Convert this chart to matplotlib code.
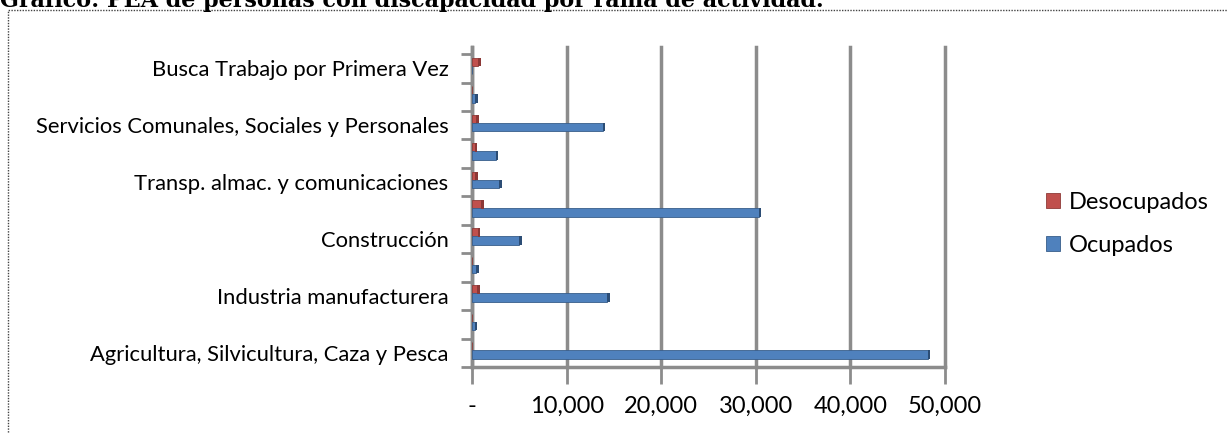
import matplotlib
matplotlib.use('Agg')
import matplotlib.pyplot as plt
from matplotlib.patches import Rectangle
import numpy as np

# data (bottom to top)
categorias = ['Agricultura, Silvicultura, Caza y Pesca',
              'Explotación de Minas y Canteras',
              'Industria manufacturera',
              'Electricidad, Gas y Agua',
              'Construcción',
              'Comercio, Restaurantes y Hoteles',
              'Transp. almac. y comunicaciones',
              'Establecimientos Financieros',
              'Servicios Comunales, Sociales y Personales',
              'Actividades no bien especificadas',
              'Busca Trabajo por Primera Vez']
ocupados = [48200, 300, 14300, 450, 5000, 30300, 2900, 2500, 13800, 350, 0]
desocupados = [0, 0, 550, 0, 600, 1000, 350, 300, 450, 0, 650]
xticks = [0, 10000, 20000, 30000, 40000, 50000]
xlabels = ['-', '10,000', '20,000', '30,000', '40,000', '50,000']
titulo = 'Gráfico: PEA de personas con discapacidad por rama de actividad.'

azul = '#4F81BD'
rojo = '#C0504D'
gris = '#8C8C8C'
fuente = 'Lato'

fig = plt.figure(figsize=(12.28, 4.33), dpi=100)
ax = fig.add_axes([472/1228, 1-367/433, (945-472)/1228, (367-47)/433])

y = np.arange(len(categorias))
ax.barh(y + 0.22, desocupados, height=0.3, color=rojo, edgecolor='#8E3B38', linewidth=0.6,
        label='Desocupados', zorder=3)
ax.barh(y - 0.06, ocupados, height=0.3, color=azul, edgecolor='#385D8A', linewidth=0.6,
        label='Ocupados', zorder=3)
# borde oscuro al final de cada barra (efecto 3D)
ax.barh(y + 0.22, [250 if v > 0 else 0 for v in desocupados], left=desocupados, height=0.3,
        color='#8C3836', linewidth=0, zorder=3)
ax.barh(y - 0.06, [250 if v > 0 else 0 for v in ocupados], left=ocupados, height=0.3,
        color='#2C4D75', linewidth=0, zorder=3)

ax.set_xlim(0, 50000)
ax.set_ylim(-0.5, 10.5 + 0.25)
ax.set_xticks(xticks)
ax.set_xticklabels(xlabels, fontsize=17, family=fuente)
ax.set_yticks(np.arange(len(categorias) + 1) - 0.5, minor=False)
ax.set_yticklabels([])
ax.set_yticks(y, minor=True)
ax.set_yticklabels([c if i % 2 == 0 else '' for i, c in enumerate(categorias)],
                   minor=True, fontsize=15.8, family=fuente)
ax.tick_params(axis='y', which='minor', length=0, pad=17)
ax.tick_params(axis='y', which='major', length=8, color=gris, width=2)
ax.tick_params(axis='x', length=12, color=gris, width=2, pad=9)

ax.grid(axis='x', color=gris, linewidth=2.5, zorder=0)
for g in ax.get_xgridlines():
    g.set_clip_on(False)
for s in ['top', 'right']:
    ax.spines[s].set_visible(False)
for s in ['left', 'bottom']:
    ax.spines[s].set_color(gris)
    ax.spines[s].set_linewidth(2.5)

h, l = ax.get_legend_handles_labels()
fig.legend(h, l, loc='center left', bbox_to_anchor=(1025/1228, 1-224/433), frameon=False,
           prop={'family': fuente, 'size': 17}, handlelength=0.6, handleheight=0.6,
           handletextpad=0.35, labelspacing=0.95)

# marco del gráfico
fig.patches.append(Rectangle((8/1228, -0.05), 1.2, 1 - 10/433 + 0.05, transform=fig.transFigure,
                             fill=False, edgecolor='#444444', linewidth=1, linestyle=(0, (1, 1))))
fig.text(0.0, 1 - 7/433, titulo, fontsize=16, fontweight='bold', family='DejaVu Serif',
         va='baseline', ha='left')

fig.savefig('out.png', dpi=100)
